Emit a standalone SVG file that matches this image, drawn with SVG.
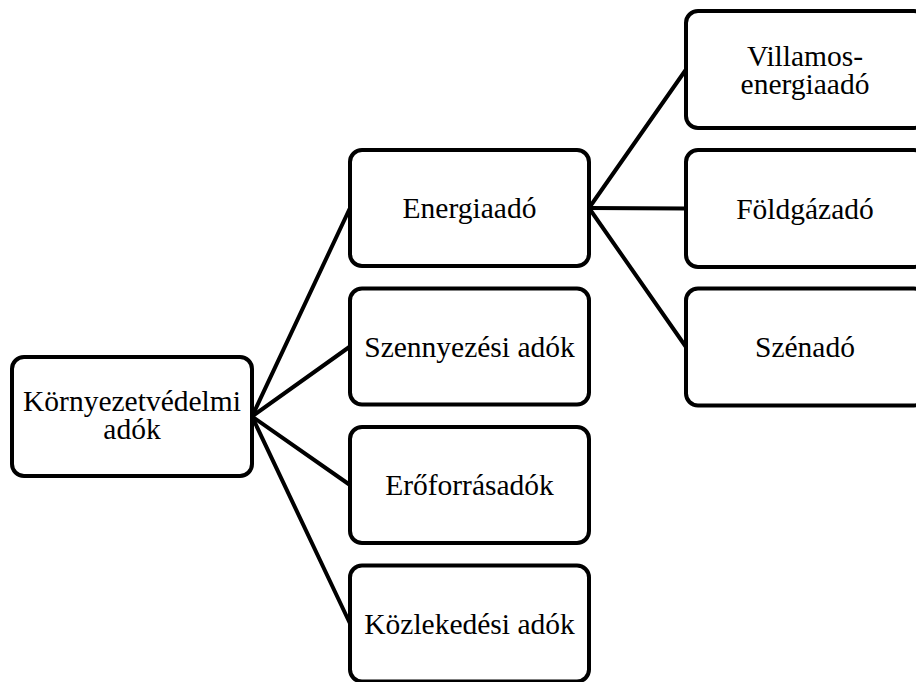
<svg xmlns="http://www.w3.org/2000/svg" width="916" height="682" viewBox="0 0 916 682">
  <style>
    .box { fill: #ffffff; stroke: #000000; stroke-width: 4; }
    .lbl { font-size: 29.5px; fill: #000000; text-anchor: middle; }
    .conn { stroke: #000000; stroke-width: 4; fill: none; stroke-linecap: round; }
  </style>
  <rect width="916" height="682" fill="#ffffff"/>
  <g id="connectors">
    <line class="conn" x1="252" y1="416.5" x2="350" y2="208"/>
    <line class="conn" x1="252" y1="416.5" x2="350" y2="346.5"/>
    <line class="conn" x1="252" y1="416.5" x2="350" y2="485"/>
    <line class="conn" x1="252" y1="416.5" x2="350" y2="623.5"/>
    <line class="conn" x1="589" y1="208" x2="686" y2="69.5"/>
    <line class="conn" x1="589" y1="208" x2="686" y2="208.5"/>
    <line class="conn" x1="589" y1="208" x2="686" y2="347"/>
  </g>
  <g id="node-root">
    <rect class="box" x="12" y="357" width="240" height="119" rx="12"/>
    <text class="lbl" x="132" y="411" font-family="Liberation Serif, serif">Környezetvédelmi</text>
    <text class="lbl" x="132" y="439" font-family="Liberation Serif, serif">adók</text>
  </g>
  <g id="node-energiaado">
    <rect class="box" x="350" y="150" width="239" height="116" rx="12"/>
    <text class="lbl" x="469.5" y="218" font-family="Liberation Serif, serif">Energiaadó</text>
  </g>
  <g id="node-szennyezesi">
    <rect class="box" x="350" y="288.5" width="239" height="116" rx="12"/>
    <text class="lbl" x="469.5" y="356.5" font-family="Liberation Serif, serif">Szennyezési adók</text>
  </g>
  <g id="node-eroforras">
    <rect class="box" x="350" y="427" width="239" height="116" rx="12"/>
    <text class="lbl" x="469.5" y="495" font-family="Liberation Serif, serif">Erőforrásadók</text>
  </g>
  <g id="node-kozlekedesi">
    <rect class="box" x="350" y="565.5" width="239" height="116" rx="12"/>
    <text class="lbl" x="469.5" y="633.5" font-family="Liberation Serif, serif">Közlekedési adók</text>
  </g>
  <g id="node-villamos">
    <rect class="box" x="686" y="11" width="240" height="117" rx="12"/>
    <text class="lbl" x="805" y="66" font-family="Liberation Serif, serif">Villamos-</text>
    <text class="lbl" x="805" y="94" font-family="Liberation Serif, serif">energiaadó</text>
  </g>
  <g id="node-foldgaz">
    <rect class="box" x="686" y="150" width="240" height="117" rx="12"/>
    <text class="lbl" x="805" y="218.5" font-family="Liberation Serif, serif">Földgázadó</text>
  </g>
  <g id="node-szenado">
    <rect class="box" x="686" y="288.5" width="240" height="117" rx="12"/>
    <text class="lbl" x="805" y="357" font-family="Liberation Serif, serif">Szénadó</text>
  </g>
</svg>
